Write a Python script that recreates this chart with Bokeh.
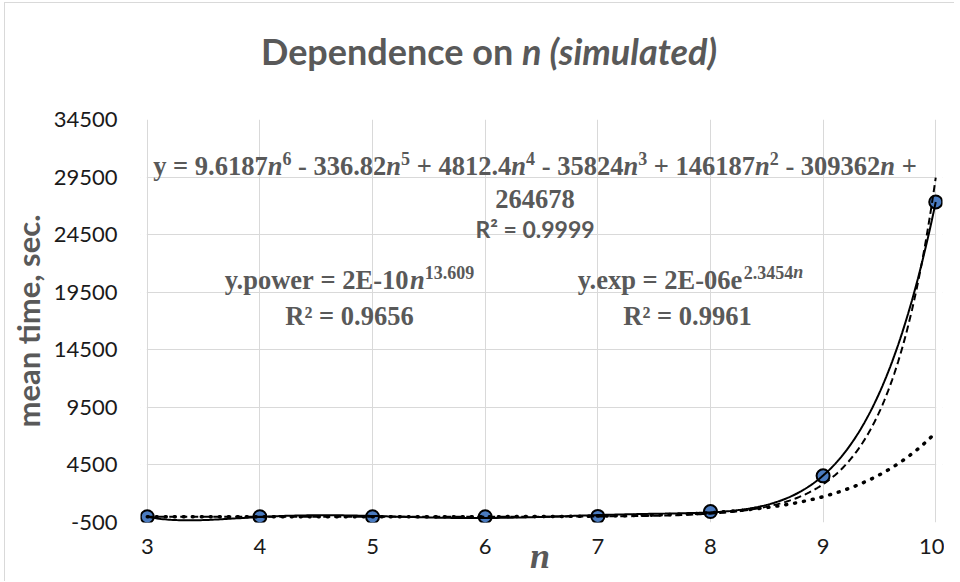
import numpy as np
from bokeh.plotting import figure
from bokeh.layouts import column
from bokeh.models import Range1d, FixedTicker, Label, BoxAnnotation, Div
from bokeh.embed import file_html
from bokeh.resources import INLINE

# ---------------- data ----------------
n_vals = [3, 4, 5, 6, 7, 8, 9, 10]
mean_time = [0.002, 0.03, 0.3, 3.0, 30.0, 450.0, 3550.0, 27340.0]
x_ticks = [3, 4, 5, 6, 7, 8, 9, 10]
y_ticks = [-500, 4500, 9500, 14500, 19500, 24500, 29500, 34500]
y_tick_labels = ["-500", "4500", "9500", "14500", "19500", "24500", "29500", "34500"]
poly_degree = 6
power_a, power_b = 1.8e-10, 13.609      # y = a * n^b   (label: 2E-10 n^13.609)
exp_a, exp_b = 1.92e-6, 2.3454          # y = a * e^(b n) (label: 2E-06 e^2.3454n)

title_main = "Dependence on"
title_ital = "n (simulated)"
y_title = "mean time, sec."
x_title = "n"

GRAY = "#595959"
W = 939
H_TOP, H_MAIN, H_BOT, OVERLAP = 80, 466, 44, 27
FL, FB = 143.0, 520.0           # page reference for the frame's left / bottom edge

# ---------------- title (HTML text) ----------------
title_div = Div(
    width=W, height=H_TOP,
    text=(f'<div style="box-sizing:border-box;width:{W}px;padding-left:19px;'
          f'padding-top:22px;text-align:center;font-family:Lato;font-weight:bold;'
          f'font-size:36px;line-height:43px;color:{GRAY};white-space:nowrap;">'
          f'{title_main} <i>{title_ital}</i></div>'))

# ---------------- main chart ----------------
p = figure(width=W, height=H_MAIN, output_backend="svg", toolbar_location=None,
           x_range=Range1d(2.94, 10.06), y_range=Range1d(-500, 34500),
           min_border_left=127, min_border_right=2, min_border_top=26,
           min_border_bottom=37)
p.outline_line_color = None

for ax, ticks in ((p.xaxis, x_ticks), (p.yaxis, y_ticks)):
    ax.ticker = FixedTicker(ticks=ticks)
    ax.axis_line_color = None
    ax.major_tick_line_color = None
    ax.minor_tick_line_color = None
    ax.major_label_text_font = "Lato"
    ax.major_label_text_font_size = "22px"
    ax.major_label_text_color = "#1A1A1A"
p.yaxis.major_label_overrides = {t: s for t, s in zip(y_ticks, y_tick_labels)}
p.xaxis.major_label_standoff = 10
p.yaxis.major_label_standoff = 17
p.yaxis.axis_label = y_title
p.yaxis.axis_label_text_font = "Lato"
p.yaxis.axis_label_text_font_size = "31px"
p.yaxis.axis_label_text_font_style = "bold"
p.yaxis.axis_label_text_color = GRAY
p.yaxis.axis_label_standoff = 4

p.xgrid.ticker = FixedTicker(ticks=x_ticks)
p.ygrid.ticker = FixedTicker(ticks=y_ticks)
for g in (p.xgrid, p.ygrid):
    g.grid_line_color = "#D9D9D9"
    g.grid_line_width = 1

# white masks so the horizontal grid stops at n = 3 and n = 10
p.add_layout(BoxAnnotation(right=2.996, fill_color="white", fill_alpha=1,
                           line_alpha=0, level="underlay"))
p.add_layout(BoxAnnotation(left=10.004, fill_color="white", fill_alpha=1,
                           line_alpha=0, level="underlay"))

# ---------------- marks ----------------
p.scatter(n_vals, mean_time, size=13, marker="circle",
          fill_color="#4A7BC0", line_color="black", line_width=2)

xs = np.linspace(3, 10, 400)
coef = np.polyfit(n_vals, mean_time, poly_degree)
p.line(xs, np.polyval(coef, xs), line_color="black", line_width=2)
p.line(xs, exp_a * np.exp(exp_b * xs), line_color="black", line_width=2,
       line_dash="7 4")
p.line(xs, power_a * xs ** power_b, line_color="black", line_width=3.5,
       line_dash="1 8", line_cap="round")

# ---------------- equation texts (screen units relative to the frame) ----------------
NB = "\u00a0"
TB = {NB: 250, " ": 250, "+": 570, "-": 333, ".": 250, "=": 570, "E": 667,
      "R": 722, "e": 444, "o": 500, "p": 556, "r": 444, "w": 722, "x": 500,
      "y": 500, "n": 556, "\u00b2": 300}
for d in "0123456789":
    TB[d] = 500


def tw(s):
    return sum(TB.get(c, 500) for c in s) / 1000.0


def label(X, Y, text, font, size, style, align="left"):
    p.add_layout(Label(x=X - FL, y=FB - Y, x_units="screen", y_units="screen",
                       text=text, text_font=font, text_font_size=f"{size:.1f}px",
                       text_font_style=style, text_color=GRAY, text_align=align,
                       text_baseline="alphabetic"))


def add_rich(segments, cx, base, size, sup_scale=0.68):
    segs = [(t.replace(" ", NB), i, s) for t, i, s in segments]
    widths = [tw(t) * size * (sup_scale if s else 1.0) for t, i, s in segs]
    x = cx - sum(widths) / 2.0
    for (text, ital, sup), w in zip(segs, widths):
        fs = size * sup_scale if sup else size
        yy = base - (size * 0.28 if sup else 0)
        label(x, yy, text, "Liberation Serif", fs, "bold italic" if ital else "bold")
        x += w


poly_segments = [("y = 9.6187", 0, 0), ("n", 1, 0), ("6", 0, 1),
                 (" - 336.82", 0, 0), ("n", 1, 0), ("5", 0, 1),
                 (" + 4812.4", 0, 0), ("n", 1, 0), ("4", 0, 1),
                 (" - 35824", 0, 0), ("n", 1, 0), ("3", 0, 1),
                 (" + 146187", 0, 0), ("n", 1, 0), ("2", 0, 1),
                 (" - 309362", 0, 0), ("n", 1, 0), (" +", 0, 0)]

EQ = 26.5
add_rich(poly_segments, 537.5, 163, EQ)
add_rich([("264678", 0, 0)], 537.5, 196, EQ)
label(537.5, 226, "R\u00b2 = 0.9999", "Lato", 23, "bold", align="center")

add_rich([("y.power = 2E-10", 0, 0), ("n", 1, 0), ("13.609", 0, 1)], 352, 277, EQ)
add_rich([("R\u00b2 = 0.9656", 0, 0)], 352, 313, EQ)
add_rich([("y.exp = 2E-06e", 0, 0), ("2.3454", 0, 1), ("n", 1, 1)], 693, 277, EQ)
add_rich([("R\u00b2 = 0.9961", 0, 0)], 690, 313, EQ)

# ---------------- x-axis title (HTML text, overlapping the empty strip under the ticks) ----
x_div = Div(
    width=W, height=H_BOT, styles={"margin-top": f"-{OVERLAP}px"},
    text=(f'<div style="box-sizing:border-box;width:{W}px;height:{H_BOT}px;'
          f'padding-left:121px;padding-top:4px;text-align:center;'
          f'font-family:\'Liberation Serif\';font-weight:bold;font-style:italic;'
          f'font-size:36px;line-height:40px;color:{GRAY};">'
          f'{x_title}</div>'))

layout = column(title_div, p, x_div, spacing=0)
layout.styles = {"margin-left": "4px", "margin-top": "2px",
                 "border-left": "1px solid #D9D9D9", "border-top": "1px solid #D9D9D9"}

open("out.html", "w").write(file_html(layout, INLINE))
